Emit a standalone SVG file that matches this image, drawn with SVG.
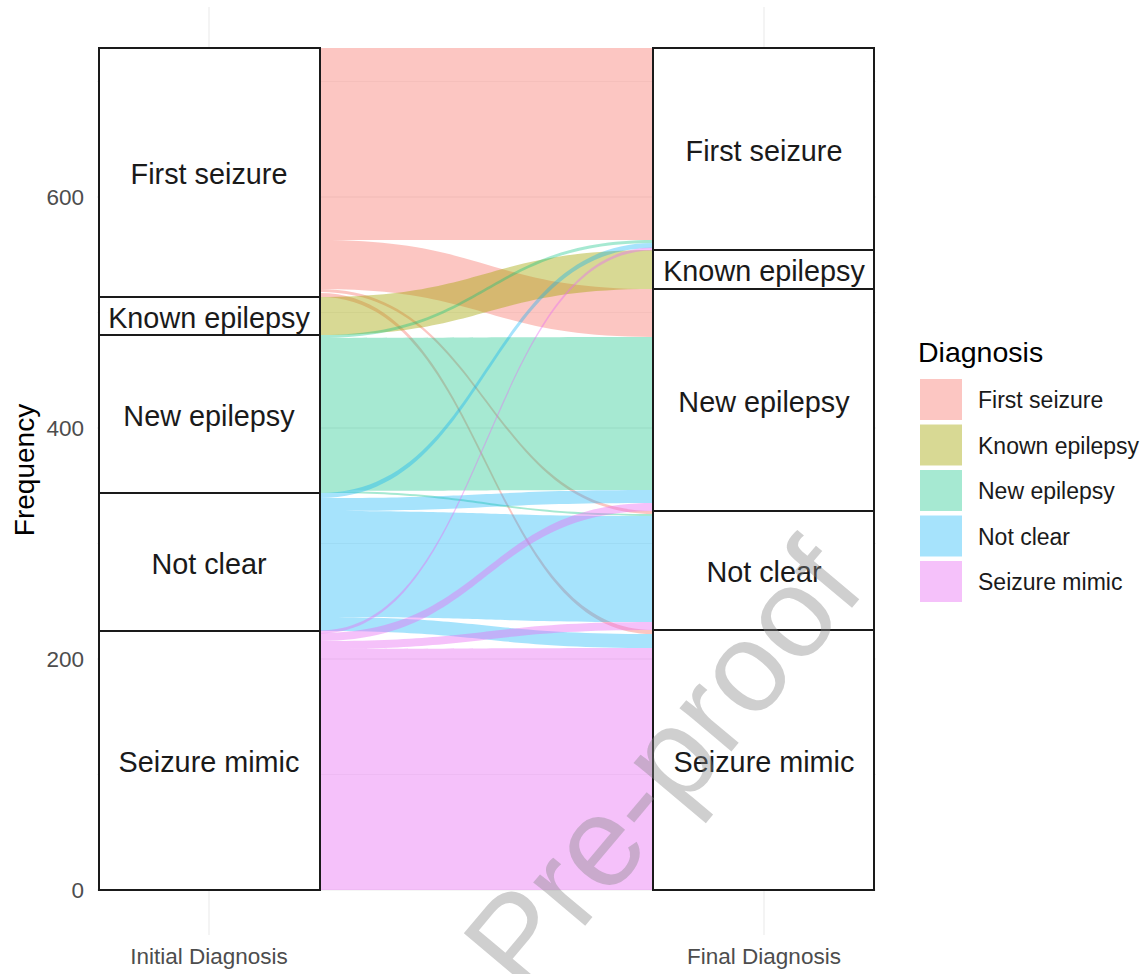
<svg xmlns="http://www.w3.org/2000/svg" width="1145" height="974" viewBox="0 0 1145 974">
<style>
.grid{stroke:#EBEBEB;stroke-width:1.1;fill:none}
.gridm{stroke:#EBEBEB;stroke-width:0.6;fill:none}
.box{fill:#FFFFFF;stroke:#1a1a1a;stroke-width:2}
.lbl{font-family:"Liberation Sans",Arial,sans-serif;font-size:28.8px;fill:#1a1a1a;text-anchor:middle}
.axt{font-family:"Liberation Sans",Arial,sans-serif;font-size:22.5px;fill:#4D4D4D}
.leg{font-family:"Liberation Sans",Arial,sans-serif;font-size:23px;fill:#1a1a1a}
.fs{fill:#F8766D;fill-opacity:0.42}
.ke{fill:#A3A500;fill-opacity:0.42}
.ne{fill:#00BF7D;fill-opacity:0.35}
.nc{fill:#00B0F6;fill-opacity:0.35}
.sm{fill:#E76BF3;fill-opacity:0.42}
</style>
<rect width="1145" height="974" fill="#FFFFFF"/>
<g id="grid">
<line class="gridm" x1="97" y1="81.5" x2="876" y2="81.5"/>
<line class="gridm" x1="97" y1="312.5" x2="876" y2="312.5"/>
<line class="gridm" x1="97" y1="543.5" x2="876" y2="543.5"/>
<line class="gridm" x1="97" y1="774.5" x2="876" y2="774.5"/>
<line class="grid" x1="97" y1="197" x2="876" y2="197"/>
<line class="grid" x1="97" y1="428" x2="876" y2="428"/>
<line class="grid" x1="97" y1="659" x2="876" y2="659"/>
<line class="grid" x1="97" y1="890" x2="876" y2="890"/>
<line class="grid" x1="209" y1="7" x2="209" y2="935"/>
<line class="grid" x1="764" y1="7" x2="764" y2="935"/>
</g>
<g id="connectors">
<path class="fs" d="M320,48 C486.5,48 486.5,48 653,48 L653,240 C486.5,240 486.5,240 320,240 Z"/>
<path class="fs" d="M320,240 C486.5,240 486.5,289 653,289 L653,337 C486.5,337 486.5,289 320,289 Z"/>
<path class="fs" d="M320,289 C486.5,289 486.5,511 653,511 L653,514 C486.5,514 486.5,292 320,292 Z"/>
<path class="fs" d="M320,293 C486.5,293 486.5,630 653,630 L653,634 C486.5,634 486.5,297 320,297 Z"/>
<path class="ke" d="M320,297 C486.5,297 486.5,250 653,250 L653,289 C486.5,289 486.5,335 320,335 Z"/>
<path class="ne" d="M320,335 C486.5,335 486.5,240 653,240 L653,243 C486.5,243 486.5,338 320,338 Z"/>
<path class="ne" d="M320,338 C486.5,338 486.5,337 653,337 L653,490 C486.5,490 486.5,491 320,491 Z"/>
<path class="ne" d="M320,491 C486.5,491 486.5,514 653,514 L653,516 C486.5,516 486.5,493 320,493 Z"/>
<path class="nc" d="M320,493 C486.5,493 486.5,243 653,243 L653,248 C486.5,248 486.5,498 320,498 Z"/>
<path class="nc" d="M320,498 C486.5,498 486.5,490 653,490 L653,503 C486.5,503 486.5,511 320,511 Z"/>
<path class="nc" d="M320,511 C486.5,511 486.5,516 653,516 L653,622 C486.5,622 486.5,617 320,617 Z"/>
<path class="nc" d="M320,617 C486.5,617 486.5,634 653,634 L653,648 C486.5,648 486.5,631 320,631 Z"/>
<path class="sm" d="M320,630.5 C486.5,630.5 486.5,247.5 653,247.5 L653,250.5 C486.5,250.5 486.5,633.5 320,633.5 Z"/>
<path class="sm" d="M320,633 C486.5,633 486.5,503 653,503 L653,511 C486.5,511 486.5,641 320,641 Z"/>
<path class="sm" d="M320,641 C486.5,641 486.5,622 653,622 L653,630 C486.5,630 486.5,649 320,649 Z"/>
<path class="sm" d="M320,649 C486.5,649 486.5,648 653,648 L653,890 C486.5,890 486.5,890 320,890 Z"/>
</g>
<g id="initial-first-seizure"><rect class="box" x="99" y="48" width="221" height="249"/><text class="lbl" x="209" y="184">First seizure</text></g>
<g id="initial-known-epilepsy"><rect class="box" x="99" y="297" width="221" height="38"/><text class="lbl" x="209" y="327.5">Known epilepsy</text></g>
<g id="initial-new-epilepsy"><rect class="box" x="99" y="335" width="221" height="158"/><text class="lbl" x="209" y="425.5">New epilepsy</text></g>
<g id="initial-not-clear"><rect class="box" x="99" y="493" width="221" height="138"/><text class="lbl" x="209" y="573.5">Not clear</text></g>
<g id="initial-seizure-mimic"><rect class="box" x="99" y="631" width="221" height="259"/><text class="lbl" x="209" y="772">Seizure mimic</text></g>
<g id="final-first-seizure"><rect class="box" x="653" y="48" width="221" height="202"/><text class="lbl" x="764" y="160.5">First seizure</text></g>
<g id="final-known-epilepsy"><rect class="box" x="653" y="250" width="221" height="39"/><text class="lbl" x="764" y="281">Known epilepsy</text></g>
<g id="final-new-epilepsy"><rect class="box" x="653" y="289" width="221" height="222"/><text class="lbl" x="764" y="411.5">New epilepsy</text></g>
<g id="final-not-clear"><rect class="box" x="653" y="511" width="221" height="119"/><text class="lbl" x="764" y="582">Not clear</text></g>
<g id="final-seizure-mimic"><rect class="box" x="653" y="630" width="221" height="260"/><text class="lbl" x="764" y="771.5">Seizure mimic</text></g>
<g id="axes">
<text class="axt" x="84" y="205" text-anchor="end">600</text>
<text class="axt" x="84" y="436" text-anchor="end">400</text>
<text class="axt" x="84" y="667" text-anchor="end">200</text>
<text class="axt" x="84" y="898" text-anchor="end">0</text>
<text class="axt" x="209" y="964" text-anchor="middle">Initial Diagnosis</text>
<text class="axt" x="764" y="964" text-anchor="middle">Final Diagnosis</text>
<text x="34" y="470" transform="rotate(-90 34 470)" text-anchor="middle" font-family="'Liberation Sans',Arial,sans-serif" font-size="28" fill="#000">Frequency</text>
</g>
<g id="legend">
<text x="918" y="362" font-family="'Liberation Sans',Arial,sans-serif" font-size="28.5" fill="#000">Diagnosis</text>
<rect class="fs" x="920" y="379" width="42" height="41"/>
<rect class="ke" x="920" y="424.5" width="42" height="41"/>
<rect class="ne" x="920" y="470" width="42" height="41"/>
<rect class="nc" x="920" y="515.5" width="42" height="41"/>
<rect class="sm" x="920" y="561" width="42" height="41"/>
<text class="leg" x="978" y="408">First seizure</text>
<text class="leg" x="978" y="453.5">Known epilepsy</text>
<text class="leg" x="978" y="499">New epilepsy</text>
<text class="leg" x="978" y="544.5">Not clear</text>
<text class="leg" x="978" y="590">Seizure mimic</text>
</g>
<g id="watermark">
<text x="0" y="0" transform="translate(662 765) rotate(-50)" text-anchor="middle" dominant-baseline="central" font-family="'Liberation Sans',Arial,sans-serif" font-size="128" fill="#888888" fill-opacity="0.4">Pre-proof</text>
</g>
</svg>
